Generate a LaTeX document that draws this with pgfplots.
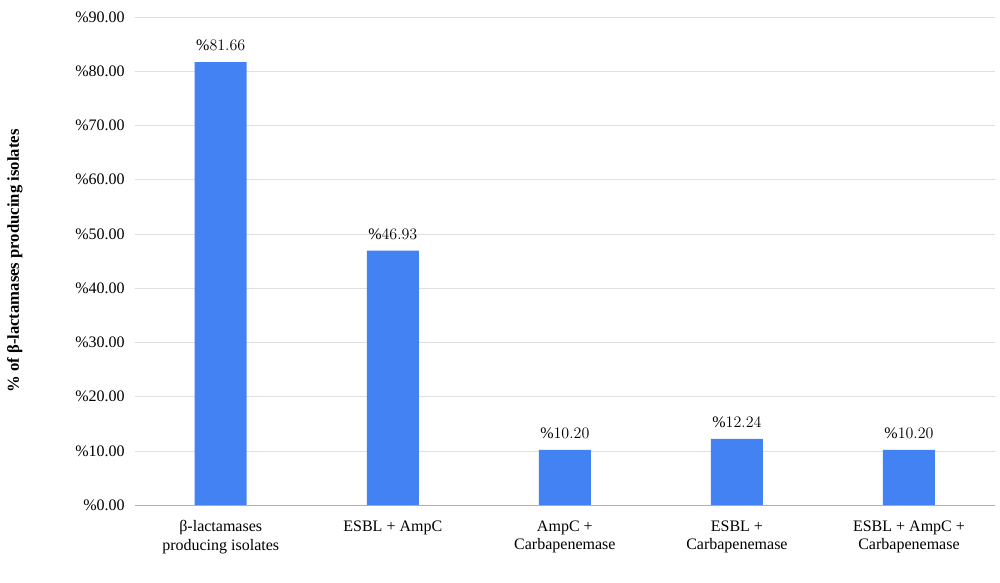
\documentclass[border=0pt]{standalone}
\usepackage{fontspec}
\setmainfont{Liberation Serif}
\usepackage{pgfplots}
\pgfplotsset{compat=1.18}
\definecolor{barblue}{HTML}{4282F2}
\begin{document}
\begin{tikzpicture}
\begin{axis}[
  scale only axis, width=645pt, height=366pt,
  ymin=0, ymax=90, ytick={0,10,...,90},
  yticklabels={\%0.00,\%10.00,\%20.00,\%30.00,\%40.00,\%50.00,\%60.00,\%70.00,\%80.00,\%90.00},
  xmin=-0.5, xmax=4.5, xtick={0,1,2,3,4},
  xticklabels={{β-lactamases\\producing isolates},{ESBL + AmpC},{AmpC +\\Carbapenemase},{ESBL +\\Carbapenemase},{ESBL + AmpC +\\Carbapenemase}},
  xticklabel style={align=center, font=\fontsize{12}{14}\selectfont, yshift=-8pt},
  yticklabel style={font=\fontsize{12}{14}\selectfont, xshift=-4pt},
  ymajorgrids, grid style={gray!25},
  axis y line=left, axis x line=bottom,
  y axis line style={draw=none}, x axis line style={gray!60,-},
  major tick length=0pt,
  ylabel={\bfseries \% of β-lactamases producing isolates},
  ylabel style={font=\fontsize{12.5}{14}\selectfont, at={(-0.125,0.5)}},
  nodes near coords={\%\pgfmathprintnumber[fixed,fixed zerofill,precision=2]{\pgfplotspointmeta}},
  nodes near coords style={font=\fontsize{12}{14}\selectfont, yshift=5pt},
]
\addplot[ybar, bar width=39pt, fill=barblue, draw=none] coordinates {(0,81.66) (1,46.93) (2,10.20) (3,12.24) (4,10.20)};
\end{axis}
\path[use as bounding box] (-101pt,-57.75pt) rectangle (648.75pt,378.75pt);
\end{tikzpicture}
\end{document}
